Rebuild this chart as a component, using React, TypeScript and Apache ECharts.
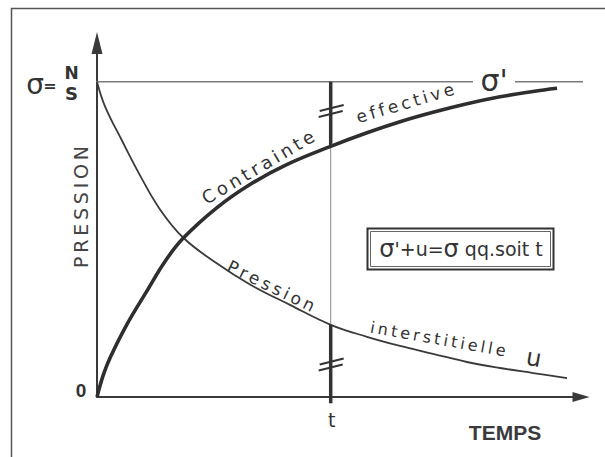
import React, { useEffect, useRef } from "react";
import * as echarts from "echarts";

// Axis ranges (time units, pressure in units of sigma = N/S)
const X_MAX = 10.355;
const Y_MAX = 1.1227;
const SIGMA = 1.0;
const T_VALUE = 5;

// Pression interstitielle u
const uTime = [0, 0.171, 0.528, 0.92, 1.348, 1.847, 2.561, 3.273, 4.129, 5.0, 5.776, 6.483, 7.189, 7.916, 8.622, 9.328, 10.056];
const uValues = [1.0, 0.922, 0.815, 0.703, 0.595, 0.505, 0.424, 0.357, 0.292, 0.229, 0.191, 0.162, 0.137, 0.111, 0.092, 0.076, 0.06];

// Contrainte effective sigma'
const sTime = [0, 0.135, 0.278, 0.635, 1.063, 1.455, 1.847, 2.561, 3.273, 4.058, 5.0, 5.776, 6.483, 7.189, 7.916, 8.622, 9.328, 9.842];
const sValues = [0, 0.07, 0.124, 0.229, 0.335, 0.43, 0.504, 0.6, 0.674, 0.737, 0.795, 0.838, 0.873, 0.903, 0.93, 0.952, 0.969, 0.979];

// sigma = N/S reference line (with a break around the sigma' label)
const sigmaLineX = [-0.792, 8.044, null, 8.943, 10.612];

// positions of the "//" break marks on the t line
const breakMarksY = [0.907, 0.103];

const spaced = (s: string) => s.split("").join("\u2009");
const pair = (xs: number[], ys: number[]) => xs.map((x, i) => [x, ys[i]]);

export default function App() {
  const ref = useRef<HTMLDivElement>(null);
  useEffect(() => {
    const chart = echarts.init(ref.current!, null, { renderer: "svg" });
    const font = '"DejaVu Sans", sans-serif';
    const ink = "#333";
    chart.setOption({
      animation: false,
      backgroundColor: "#fff",
      grid: { left: 97, right: 24, top: 43, bottom: 60 },
      xAxis: {
        type: "value",
        min: 0,
        max: X_MAX,
        axisLine: {
          show: true,
          lineStyle: { color: "#3a3a3a", width: 2 },
          symbol: ["none", "triangle"],
          symbolSize: [10, 17],
        },
        axisTick: { show: false },
        axisLabel: { show: false },
        splitLine: { show: false },
      },
      yAxis: {
        type: "value",
        min: 0,
        max: Y_MAX,
        axisLine: {
          show: true,
          lineStyle: { color: "#3a3a3a", width: 2 },
          symbol: ["none", "triangle"],
          symbolSize: [11, 22],
        },
        axisTick: { show: false },
        axisLabel: { show: false },
        splitLine: { show: false },
      },
      series: [
        {
          type: "line",
          data: sigmaLineX.map((x) => (x === null ? [8.5, "-"] : [x, SIGMA])),
          symbol: "none",
          clip: false,
          connectNulls: false,
          lineStyle: { color: "#7a7a7a", width: 1.5 },
          z: 1,
        },
        {
          type: "line",
          data: [[T_VALUE, SIGMA], [T_VALUE, 0]],
          symbol: "none",
          lineStyle: { color: "#8a8a8a", width: 1 },
          z: 1,
        },
        {
          type: "line",
          data: [[T_VALUE, SIGMA], [T_VALUE, sValues[sTime.indexOf(T_VALUE)]]],
          symbol: "none",
          lineStyle: { color: ink, width: 3.5 },
          z: 3,
        },
        {
          type: "line",
          data: [[T_VALUE, uValues[uTime.indexOf(T_VALUE)]], [T_VALUE, -0.02]],
          symbol: "none",
          clip: false,
          lineStyle: { color: ink, width: 3.5 },
          z: 3,
        },
        {
          type: "line",
          data: pair(uTime, uValues),
          symbol: "none",
          smooth: 0.4,
          lineStyle: { color: "#3a3a3a", width: 1.8 },
          z: 2,
        },
        {
          type: "line",
          data: pair(sTime, sValues),
          symbol: "none",
          smooth: 0.4,
          lineStyle: { color: "#2e2e2e", width: 3.6 },
          z: 2,
        },
      ],
    });

    const marks: any[] = [];
    breakMarksY.forEach((yv) => {
      const [cx, cy] = chart.convertToPixel({ gridIndex: 0 }, [T_VALUE, yv]) as number[];
      marks.push({
        type: "line",
        shape: { x1: cx - 11, y1: cy, x2: cx + 13, y2: cy - 6 },
        style: { stroke: ink, lineWidth: 2 },
        z: 10,
      });
      marks.push({
        type: "line",
        shape: { x1: cx - 12, y1: cy + 6, x2: cx + 12, y2: cy },
        style: { stroke: ink, lineWidth: 2 },
        z: 10,
      });
    });
    const [tx] = chart.convertToPixel({ gridIndex: 0 }, [T_VALUE, 0]) as number[];
    const deg = (d: number) => (d * Math.PI) / 180;

    chart.setOption({
      graphic: [
        {
          type: "polyline",
          shape: { points: [[11.5, 460], [11.5, 8.5], [610, 8.5]] },
          style: { stroke: "#555", lineWidth: 1.5, fill: "none" },
          z: 10,
        },
        ...marks,
        { type: "text", x: 35, y: 84, style: { text: "σ", font: `28px ${font}`, fill: ink, align: "center", verticalAlign: "middle" } },
        { type: "text", x: 50, y: 85, style: { text: "=", font: `bold 16px ${font}`, fill: ink, align: "center", verticalAlign: "middle" } },
        { type: "text", x: 71.5, y: 73, style: { text: "N", font: `bold 17px ${font}`, fill: ink, align: "center", verticalAlign: "middle" } },
        { type: "text", x: 71.5, y: 93, style: { text: "S", font: `bold 18px ${font}`, fill: ink, align: "center", verticalAlign: "middle" } },
        { type: "text", x: 81, y: 390, style: { text: "0", font: `bold 19px "Liberation Sans", sans-serif`, fill: ink, align: "center", verticalAlign: "middle" } },
        { type: "text", x: tx + 1, y: 420, style: { text: "t", font: `19px ${font}`, fill: ink, align: "center", verticalAlign: "middle" } },
        { type: "text", x: 505, y: 432, style: { text: "TEMPS", font: `bold 21px "Liberation Sans", sans-serif`, fill: "#3a3a3a", align: "center", verticalAlign: "middle" } },
        { type: "text", x: 81, y: 207, rotation: deg(90), style: { text: spaced("PRESSION"), font: `19px ${font}`, fill: "#444", align: "center", verticalAlign: "middle" } },
        { type: "text", x: 258, y: 167, rotation: deg(30.5), style: { text: spaced("Contrainte"), font: `18px ${font}`, fill: ink, align: "center", verticalAlign: "middle" } },
        { type: "text", x: 405, y: 103, rotation: deg(16.5), style: { text: spaced("effective"), font: `17px ${font}`, fill: ink, align: "center", verticalAlign: "middle" } },
        { type: "text", x: 494, y: 80, style: { text: "σ'", font: `30px ${font}`, fill: ink, align: "center", verticalAlign: "middle" } },
        { type: "text", x: 271, y: 286, rotation: deg(-26), style: { text: spaced("Pression"), font: `17px ${font}`, fill: ink, align: "center", verticalAlign: "middle" } },
        { type: "text", x: 438, y: 339, rotation: deg(-10), style: { text: spaced("interstitielle"), font: `16px ${font}`, fill: ink, align: "center", verticalAlign: "middle" } },
        { type: "text", x: 534, y: 358, rotation: deg(-10), style: { text: "u", font: `24px ${font}`, fill: ink, align: "center", verticalAlign: "middle" } },
        { type: "rect", shape: { x: 367.5, y: 228.5, width: 186, height: 41 }, style: { stroke: ink, lineWidth: 2, fill: "none" } },
        { type: "rect", shape: { x: 370.5, y: 231.5, width: 180, height: 35 }, style: { stroke: "#666", lineWidth: 1, fill: "none" } },
        {
          type: "text",
          x: 461,
          y: 249,
          style: {
            text: "{s|σ}{n|'+u=}{s|σ}{n| qq.soit t}",
            align: "center",
            verticalAlign: "middle",
            fill: ink,
            rich: {
              s: { font: `24px ${font}`, fill: ink },
              n: { font: `19px ${font}`, fill: ink },
            },
          },
        },
      ],
    });
    return () => chart.dispose();
  }, []);
  return <div ref={ref} style={{ position: "fixed", left: 0, top: 0, width: 605, height: 457 }} />;
}
